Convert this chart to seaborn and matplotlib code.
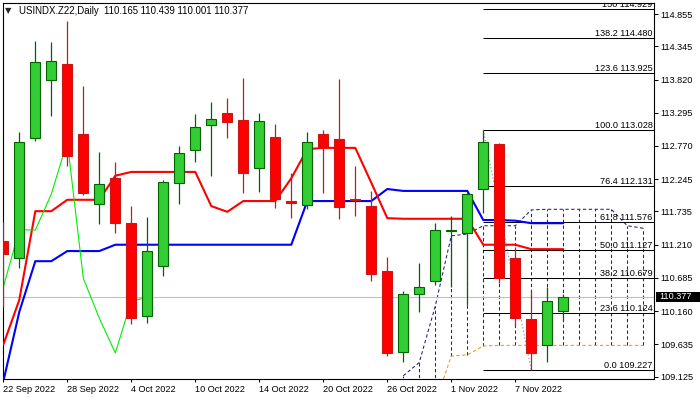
import numpy as np
import pandas as pd
import matplotlib
matplotlib.use("Agg")
import matplotlib.pyplot as plt
import matplotlib.transforms as mtrans
from matplotlib.patches import Rectangle
import seaborn as sns

# ---------------- data ----------------
opens = [111.27, 111.00, 112.89, 113.82, 114.07, 112.96, 111.85, 112.26, 111.55, 110.08,
         110.87, 112.18, 112.70, 113.10, 113.29, 113.18, 112.43, 112.91, 111.90, 111.83,
         112.96, 112.88, 111.94, 111.82, 110.80, 109.52, 110.43, 110.63, 111.42, 111.39,
         112.09, 112.80, 111.00, 110.04, 109.62, 110.165]
highs = [111.57, 112.99, 114.43, 114.41, 114.74, 113.72, 112.68, 112.52, 111.82, 111.65,
         112.23, 112.77, 113.28, 113.46, 113.53, 113.84, 113.29, 113.12, 112.35, 112.99,
         113.02, 113.83, 112.45, 112.06, 111.01, 110.48, 110.92, 111.56, 111.66, 112.03,
         113.028, 112.81, 111.18, 110.50, 110.54, 110.439]
lows = [110.23, 110.84, 112.85, 113.25, 112.45, 112.00, 111.53, 111.39, 109.96, 109.98,
        110.71, 111.86, 112.51, 112.29, 112.90, 112.02, 112.05, 111.79, 111.63, 111.77,
        112.02, 111.61, 111.66, 110.63, 109.46, 109.36, 110.14, 110.57, 110.55, 110.25,
        111.71, 110.60, 109.92, 109.227, 109.35, 110.001]
closes = [111.06, 112.84, 114.10, 114.12, 112.61, 112.02, 112.17, 111.56, 110.06, 111.11,
          112.20, 112.66, 113.07, 113.19, 113.15, 112.35, 113.16, 111.93, 111.87, 112.83,
          112.76, 111.81, 111.91, 110.74, 109.50, 110.43, 110.54, 111.45, 111.44, 112.01,
          112.84, 110.68, 110.05, 109.50, 110.32, 110.377]

tenkan = [109.63, 110.34, 111.74, 111.74, 111.92, 111.92, 111.92, 112.30, 112.36, 112.36,
          112.36, 112.36, 112.36, 111.82, 111.73, 111.90, 111.90, 111.90, 112.26, 112.72,
          112.74, 112.74, 112.74, 112.19, 111.63, 111.62, 111.62, 111.62, 111.62, 111.62,
          111.21, 111.21, 111.21, 111.14, 111.14, 111.14]
kijun = [109.05, 110.15, 110.95, 110.95, 111.11, 111.11, 111.11, 111.21, 111.21, 111.21,
         111.21, 111.21, 111.21, 111.21, 111.21, 111.21, 111.21, 111.21, 111.21, 111.90,
         111.90, 111.90, 111.90, 111.90, 112.09, 112.06, 112.06, 112.06, 112.06, 112.06,
         111.60, 111.60, 111.59, 111.55, 111.55, 111.55]

cloud_first_bar = 25
senkou_a = [109.14, 109.35, 110.24, 111.35, 111.38, 111.51, 111.51, 111.51, 111.76, 111.77,
            111.77, 111.77, 111.77, 111.77, 111.51, 111.47]
senkou_b = [107.90, 108.30, 108.71, 109.45, 109.47, 109.61, 109.62, 109.62, 109.62, 109.62,
            109.62, 109.62, 109.62, 109.62, 109.62, 109.62]
chikou_shift = 26

fib_names = ["0.0", "23.6", "38.2", "50.0", "61.8", "76.4", "100.0", "123.6", "138.2", "150"]
fib_prices = [109.227, 110.124, 110.679, 111.127, 111.576, 112.131, 113.028, 113.925, 114.480, 114.929]
fib_high_bar, fib_low_bar = 30, 33

xtick_bars = [0, 4, 8, 12, 16, 20, 24, 28, 32]
xtick_labels = ["22 Sep 2022", "28 Sep 2022", "4 Oct 2022", "10 Oct 2022", "14 Oct 2022",
                "20 Oct 2022", "26 Oct 2022", "1 Nov 2022", "7 Nov 2022"]
ytick_vals = [114.855, 114.345, 113.820, 113.295, 112.770, 112.245, 111.735, 111.210,
              110.685, 110.160, 109.635, 109.125]

title_text = "USINDX.Z22,Daily  110.165 110.439 110.001 110.377"
last_price = 110.377

# ---------------- style ----------------
sns.set_theme(style="white")
plt.rcParams["font.family"] = ["Liberation Sans", "DejaVu Sans"]
plt.rcParams["lines.scale_dashes"] = False
FS = 6.6

W, H = 700, 400
fig = plt.figure(figsize=(7, 4), dpi=100)
ax = fig.add_axes([3 / W, 21 / H, 650.5 / W, 376.5 / H])
ax.set_facecolor("white")

n = len(closes)
idx = np.arange(n)
o = np.array(opens); c = np.array(closes); hi = np.array(highs); lo = np.array(lows)

# cloud
xc = np.arange(cloud_first_bar, cloud_first_bar + len(senkou_a))
dash = (0, (2.4, 1.8))
ax.vlines(xc, senkou_b, senkou_a, colors="#1f1f7a", linestyles=[dash], linewidth=0.75, zorder=1)
cloud_df = pd.DataFrame({"bar": xc, "a": senkou_a, "b": senkou_b})
sns.lineplot(data=cloud_df, x="bar", y="a", ax=ax, color="#1f1f7a", linewidth=0.75,
             linestyle=dash, estimator=None, sort=False, zorder=1)
sns.lineplot(data=cloud_df, x="bar", y="b", ax=ax, color="#f7931e", linewidth=0.75,
             linestyle=dash, estimator=None, sort=False, zorder=1)

# last price line
ax.axhline(last_price, color="#c0c0c0", linewidth=0.8, zorder=1)

# fibonacci
xr = 40.64
ax.hlines(fib_prices, fib_high_bar, xr, colors="black", linewidth=0.75, zorder=1.5)
ax.plot([fib_high_bar, fib_low_bar], [fib_prices[6], fib_prices[0]], color="#9a9a9a",
        linestyle=(0, (1, 1.5)), linewidth=0.8, zorder=1.5)
trans = mtrans.blended_transform_factory(ax.transAxes, ax.transData)
off = mtrans.offset_copy(trans, fig=fig, x=-1, y=2, units="dots")
for name, p in zip(fib_names, fib_prices):
    ax.text(1.0, p, f"{name} {p:.3f}", transform=off, ha="right", va="baseline",
            fontsize=FS, color="black", clip_on=True, zorder=2)

# indicator lines
ind = pd.DataFrame({"bar": idx, "tenkan": tenkan, "kijun": kijun})
sns.lineplot(data=ind, x="bar", y="kijun", ax=ax, color="#0000ff", linewidth=1.5,
             estimator=None, sort=False, zorder=3)
sns.lineplot(data=ind, x="bar", y="tenkan", ax=ax, color="#ff0000", linewidth=1.5,
             estimator=None, sort=False, zorder=3)
chik = pd.DataFrame({"bar": idx[: n - chikou_shift], "close": c[chikou_shift:]})
sns.lineplot(data=chik, x="bar", y="close", ax=ax, color="#00ee00", linewidth=0.8,
             estimator=None, sort=False, zorder=3)

# candles
up = c >= o
wick_cols = np.where(up, "#006400", "#b22222")
ax.vlines(idx, lo, hi, colors=wick_cols, linewidth=0.9, zorder=4)
body_low = np.minimum(o, c)
body_h = np.maximum(np.abs(c - o), 0.02)
ax.bar(idx[up], body_h[up], bottom=body_low[up], width=0.64, color="#32cd32",
       edgecolor="#006400", linewidth=0.8, zorder=5)
ax.bar(idx[~up], body_h[~up], bottom=body_low[~up], width=0.64, color="#ff0000",
       edgecolor="#c81818", linewidth=0.8, zorder=5)

# axes
ax.set_xlim(-0.02, xr)
ax.set_ylim(109.0888, 115.0367)
ax.set_xlabel("")
ax.set_ylabel("")
ax.yaxis.tick_right()
ax.set_yticks(ytick_vals)
ax.set_yticklabels([f"{v:.3f}" for v in ytick_vals])
ax.set_xticks(xtick_bars)
ax.set_xticklabels(xtick_labels, ha="left")
ax.tick_params(axis="y", which="both", right=True, left=False, direction="out", length=3,
               width=0.75, colors="black", labelsize=FS, pad=2)
ax.tick_params(axis="x", which="both", bottom=True, direction="out", length=2.5,
               width=0.75, colors="black", labelsize=FS, pad=2)
for s in ax.spines.values():
    s.set_color("black")
    s.set_linewidth(0.8)
ax.grid(False)

# header
fig.text(4.5 / W, 1 - 10.5 / H, "\u25bc", fontsize=6, family="DejaVu Sans", va="center", ha="left")
fig.text(19 / W, 1 - 10.5 / H, title_text, fontsize=6.9, va="center", ha="left", color="black")

# last price tag
y_tag = 296.5
fig.patches.append(Rectangle((656 / W, 1 - 301.5 / H), 44 / W, 10 / H, transform=fig.transFigure,
                             facecolor="black", edgecolor="none", zorder=10))
fig.text(659 / W, 1 - y_tag / H, f"{last_price:.3f}", fontsize=FS, color="white",
         va="center", ha="left", zorder=11)

fig.savefig("out.png", dpi=100)
